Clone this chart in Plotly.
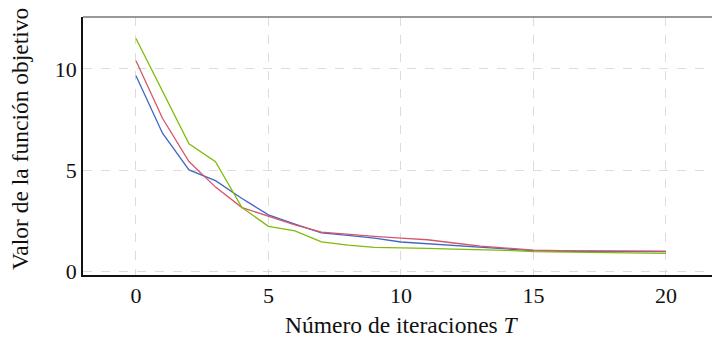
import plotly.graph_objects as go

iters = list(range(0, 21))
blue = [9.66, 6.82, 5.01, 4.48, 3.60, 2.79, 2.33, 1.90, 1.78, 1.64, 1.45, 1.36, 1.28, 1.18, 1.12, 1.02, 0.99, 0.98, 0.98, 0.97, 0.97]
red = [10.40, 7.56, 5.42, 4.16, 3.15, 2.74, 2.30, 1.94, 1.82, 1.73, 1.64, 1.56, 1.40, 1.25, 1.15, 1.05, 1.02, 1.01, 1.01, 1.00, 1.00]
green = [11.50, 8.87, 6.30, 5.42, 3.15, 2.22, 2.00, 1.46, 1.30, 1.18, 1.17, 1.13, 1.10, 1.07, 1.04, 0.97, 0.95, 0.93, 0.91, 0.90, 0.89]

series = [("blue", blue, "#3f67c6"), ("red", red, "#d6566a"), ("green", green, "#7fbb0a")]

x_ticks = [0, 5, 10, 15, 20]
y_ticks = [0, 5, 10]

FONT = "Liberation Serif"

fig = go.Figure()
for name, vals, col in series:
    fig.add_trace(go.Scatter(x=iters, y=vals, mode="lines", name=name,
                             line=dict(color=col, width=1.3), showlegend=False))

fig.update_layout(
    width=712, height=339,
    margin=dict(l=83, r=0, t=17, b=64),
    plot_bgcolor="white", paper_bgcolor="white",
    font=dict(family=FONT, size=22, color="#111"),
    xaxis=dict(range=[-2, 21.74], tickvals=x_ticks, showgrid=True,
               gridcolor="#dcdcdc", griddash="dash", gridwidth=1,
               zeroline=False, showline=True, linecolor="#111", linewidth=1.5,
               ticks="", ticklen=0),
    yaxis=dict(range=[-0.18, 12.56], tickvals=y_ticks, showgrid=True,
               gridcolor="#dcdcdc", griddash="dash", gridwidth=1,
               zeroline=False, showline=True, linecolor="#111", linewidth=1.5,
               ticks="", ticklen=0),
    shapes=[dict(type="line", xref="paper", yref="paper", x0=0, x1=1, y0=1, y1=1,
                 line=dict(color="#777", width=1.5))],
    annotations=[
        dict(text="Valor de la función objetivo", xref="paper", yref="paper",
             x=0, y=0.527, xshift=-63, textangle=-90, showarrow=False,
             font=dict(size=23.5), xanchor="center", yanchor="middle"),
        dict(text="Número de iteraciones <i>T</i>", xref="paper", yref="paper",
             x=0.507, y=0, yshift=-50, showarrow=False,
             font=dict(size=23.5), xanchor="center", yanchor="middle"),
    ],
)

fig.write_html("out.html")
